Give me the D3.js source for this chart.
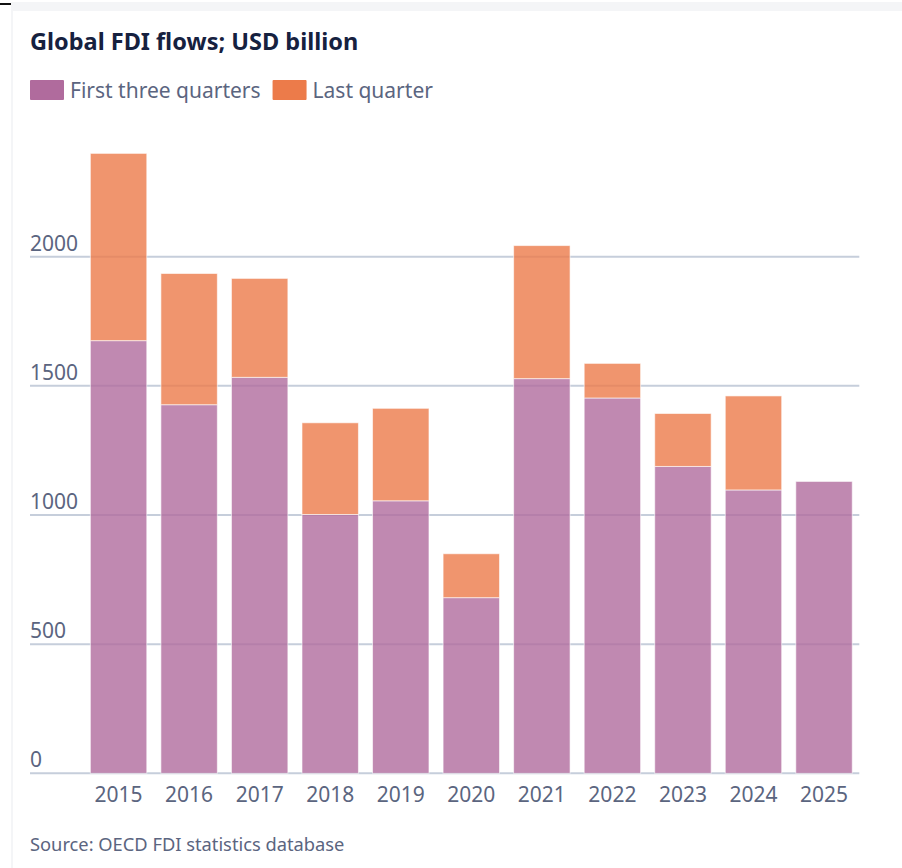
<!DOCTYPE html>
<html>
<head>
<meta charset="utf-8">
<script src="https://cdn.jsdelivr.net/npm/d3@7"></script>
<style>
html,body{margin:0;padding:0;background:#fff;}
svg{display:block;}
</style>
</head>
<body>
<svg id="chart" width="902" height="868"></svg>
<script>
const years = ["2015","2016","2017","2018","2019","2020","2021","2022","2023","2024","2025"];
const firstThree = [1675, 1427, 1533, 1002, 1055, 680, 1528, 1453, 1188, 1097, 1130];
const lastQuarter = [725, 508, 383, 355, 358, 170, 515, 134, 205, 364, 0];
const yTicks = [0, 500, 1000, 1500, 2000];
const seriesNames = ["First three quarters", "Last quarter"];
const seriesColors = ["#b06b9d", "#ec7b4a"];

const svg = d3.select("#chart");
const font = "'Noto Sans', sans-serif";

// page frame
svg.append("rect").attr("x",11).attr("y",2).attr("width",891).attr("height",9).attr("fill","#f4f5f7");
svg.append("rect").attr("x",11).attr("y",11).attr("width",2).attr("height",857).attr("fill","#f4f5f7");
svg.append("rect").attr("x",0).attr("y",3).attr("width",11).attr("height",2).attr("fill","#111");

// title
svg.append("text").attr("x",30).attr("y",50)
  .attr("font-family",font).attr("font-size",23.5).attr("font-weight",700)
  .attr("fill","#16213f").text("Global FDI flows; USD billion");

// legend
const legend = svg.append("g");
let lx = 30;
seriesNames.forEach((name,i)=>{
  legend.append("rect").attr("x",lx).attr("y",80).attr("width",34).attr("height",20).attr("rx",1)
    .attr("fill",seriesColors[i]);
  const t = legend.append("text").attr("x",lx+40).attr("y",98)
    .attr("font-family",font).attr("font-size",21).attr("fill","#5b6580").text(name);
  lx = lx + 40 + t.node().getComputedTextLength() + 12;
});

// scales
const x = d3.scaleBand().domain(years).range([83.3, 859.3]).paddingInner(0.2).paddingOuter(0.1);
const y = d3.scaleLinear().domain([0, 2000]).range([773.3, 256.7]);

// gridlines
const grid = svg.append("g");
grid.selectAll("line").data(yTicks).join("line")
  .attr("x1",30).attr("x2",859.3)
  .attr("y1",d=>y(d)).attr("y2",d=>y(d))
  .attr("stroke","#c6cedb").attr("stroke-width",2);

// y tick labels
svg.append("g").selectAll("text").data(yTicks).join("text")
  .attr("x",30).attr("y",d=>y(d)-6)
  .attr("font-family",font).attr("font-size",21).attr("fill","#5b6580")
  .text(d=>d);

// x axis labels via d3 axis
const xAxis = svg.append("g").attr("transform",`translate(0,${y(0)})`)
  .call(d3.axisBottom(x).tickSize(0).tickPadding(14));
xAxis.select(".domain").remove();
xAxis.selectAll("text").attr("font-family",font).attr("font-size",21).attr("fill","#5b6580");

// stacked bars
const rows = years.map((yr,i)=>({year:yr, first:firstThree[i], last:lastQuarter[i]}));
const stack = d3.stack().keys(["first","last"])(rows);
const barsG = svg.append("g");
stack.forEach((layer,li)=>{
  barsG.append("g").selectAll("rect").data(layer.filter(d=>d[1]-d[0]>0)).join("rect")
    .attr("x",d=>x(d.data.year))
    .attr("width",x.bandwidth())
    .attr("y",d=>y(d[1]))
    .attr("height",d=>y(d[0])-y(d[1]))
    .attr("fill",seriesColors[li]).attr("fill-opacity",0.8)
    .attr("stroke","#fff").attr("stroke-opacity",0.6).attr("stroke-width",1);
});

// source
svg.append("text").attr("x",30).attr("y",851)
  .attr("font-family",font).attr("font-size",18.3).attr("fill","#5b6580")
  .text("Source: OECD FDI statistics database");
</script>
</body>
</html>
